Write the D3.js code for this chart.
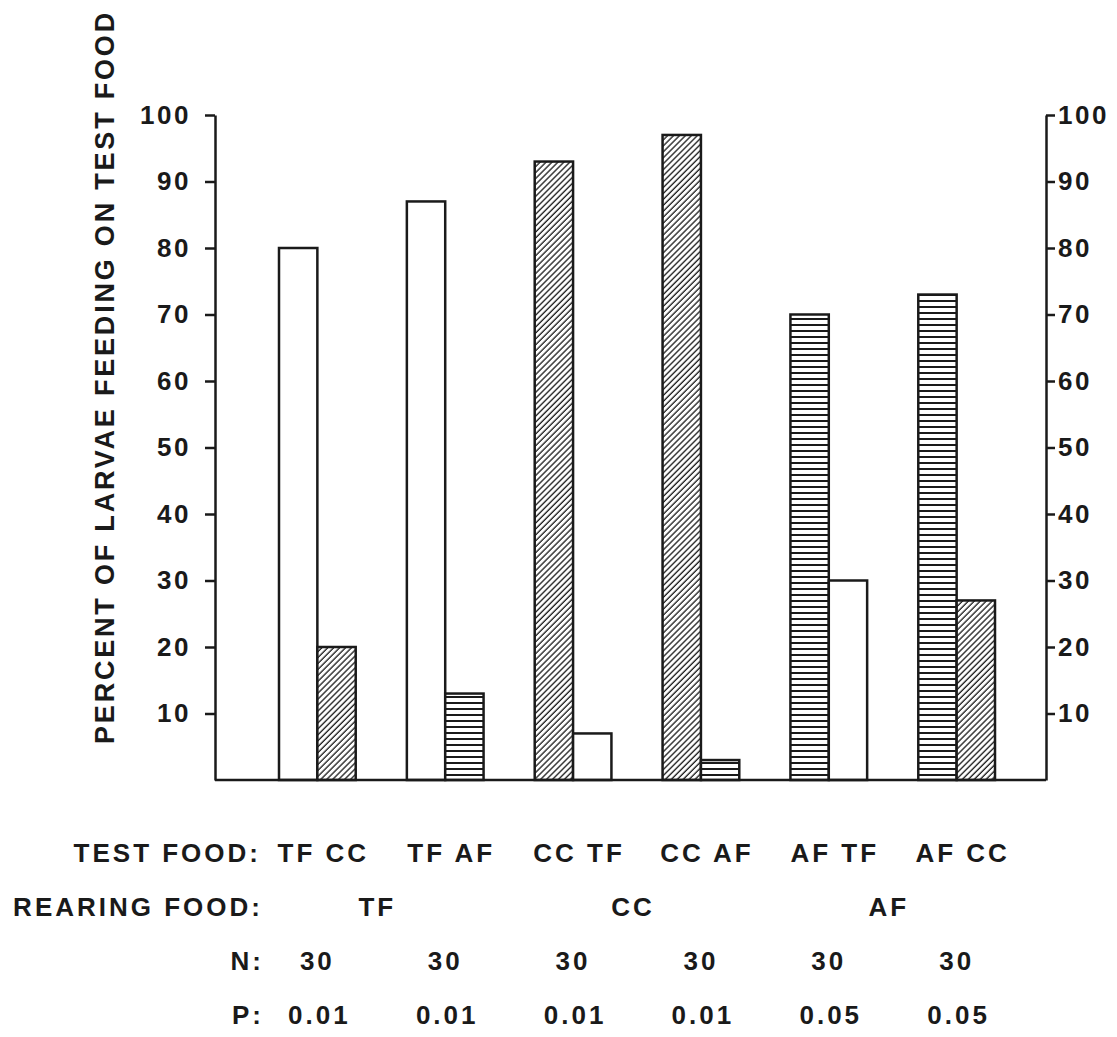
<!DOCTYPE html>
<html>
<head>
<meta charset="utf-8">
<script src="https://cdn.jsdelivr.net/npm/d3@7"></script>
<style>
  body { margin: 0; background: #fff; }
  text { font-family: "Liberation Sans", Arial, sans-serif; font-weight: bold; fill: #1a1a1a; }
</style>
</head>
<body>
<svg id="chart"></svg>
<script>
// test food pairs (first bar = first food, second bar = second food)
var testFood = ["TF CC", "TF AF", "CC TF", "CC AF", "AF TF", "AF CC"];
var firstFood = ["TF", "TF", "CC", "CC", "AF", "AF"];
var secondFood = ["CC", "AF", "TF", "AF", "TF", "CC"];
var firstValues = [80, 87, 93, 97, 70, 73];
var secondValues = [20, 13, 7, 3, 30, 27];
var rearingFood = ["TF", "CC", "AF"];
var nValues = ["30", "30", "30", "30", "30", "30"];
var pValues = ["0.01", "0.01", "0.01", "0.01", "0.05", "0.05"];
var yTicks = [10, 20, 30, 40, 50, 60, 70, 80, 90, 100];

var width = 1117,
    height = 1037;

var svg = d3.select("#chart").attr("width", width).attr("height", height);

var plotLeft = 215, plotRight = 1046, plotTop = 115, plotBottom = 780;

var y = d3.scaleLinear().domain([0, 100]).range([plotBottom, plotTop]);
var x = d3.scaleBand().domain(testFood).range([279, 995]).paddingInner(0.4).paddingOuter(0);
var xPair = d3.scaleBand().domain([0, 1]).range([0, x.bandwidth()]);

// fill patterns: TF plain, CC diagonal hatch, AF horizontal lines
var defs = svg.append("defs");
var diag = defs.append("pattern").attr("id", "diag").attr("patternUnits", "userSpaceOnUse")
  .attr("width", 4.2).attr("height", 10).attr("patternTransform", "rotate(45)");
diag.append("rect").attr("width", 4.2).attr("height", 10).attr("fill", "#fff");
diag.append("line").attr("x1", 1).attr("x2", 1).attr("y1", 0).attr("y2", 10)
  .attr("stroke", "#1a1a1a").attr("stroke-width", 1.3);
var horiz = defs.append("pattern").attr("id", "horiz").attr("patternUnits", "userSpaceOnUse")
  .attr("width", 10).attr("height", 6);
horiz.append("rect").attr("width", 10).attr("height", 6).attr("fill", "#fff");
horiz.append("line").attr("x1", 0).attr("x2", 10).attr("y1", 1).attr("y2", 1)
  .attr("stroke", "#1a1a1a").attr("stroke-width", 2);

function fillFor(food) {
  if (food == "CC") return "url(#diag)";
  if (food == "AF") return "url(#horiz)";
  return "#fff";
}

// bars
var bars = [];
testFood.forEach(function(t, i) {
  bars.push({cat: t, k: 0, food: firstFood[i], value: firstValues[i]});
  bars.push({cat: t, k: 1, food: secondFood[i], value: secondValues[i]});
});

svg.append("g").selectAll("rect").data(bars).enter().append("rect")
  .attr("x", function(d) { return x(d.cat) + xPair(d.k); })
  .attr("y", function(d) { return y(d.value); })
  .attr("width", xPair.bandwidth())
  .attr("height", function(d) { return y(0) - y(d.value); })
  .attr("fill", function(d) { return fillFor(d.food); })
  .attr("stroke", "#1a1a1a")
  .attr("stroke-width", 2.5);

// axes
var leftAxis = d3.axisLeft(y).tickValues(yTicks).tickSize(10).tickSizeOuter(0).tickPadding(14);
var rightAxis = d3.axisRight(y).tickValues(yTicks).tickSize(9).tickSizeOuter(0).tickPadding(3);

function styleAxis(g) {
  g.selectAll("path, line").attr("stroke", "#1a1a1a").attr("stroke-width", 2.5);
  g.selectAll("text").style("font-size", "26px").style("letter-spacing", "2.5px")
    .attr("font-family", null).attr("fill", "#1a1a1a");
}
svg.append("g").attr("transform", "translate(" + plotLeft + ",0)").call(leftAxis).call(styleAxis);
svg.append("g").attr("transform", "translate(" + plotRight + ",0)").call(rightAxis).call(styleAxis);

// baseline
svg.append("line").attr("x1", plotLeft).attr("x2", plotRight).attr("y1", y(0)).attr("y2", y(0))
  .attr("stroke", "#1a1a1a").attr("stroke-width", 2.5);

// y title
svg.append("text").text("PERCENT OF LARVAE FEEDING ON TEST FOOD")
  .attr("transform", "translate(114,377) rotate(-90)")
  .attr("text-anchor", "middle")
  .style("font-size", "27px").style("letter-spacing", "2.8px");

// bottom table
var labelStyle = function(sel) { return sel.style("font-size", "26px").style("letter-spacing", "3px"); };
var rowY = {test: 862, rear: 916, n: 970, p: 1024};

svg.append("text").text("TEST FOOD:").attr("x", 261).attr("y", rowY.test).attr("text-anchor", "end").call(labelStyle);
svg.append("text").text("REARING FOOD:").attr("x", 263).attr("y", rowY.rear).attr("text-anchor", "end").call(labelStyle);
svg.append("text").text("N:").attr("x", 264).attr("y", rowY.n).attr("text-anchor", "end").call(labelStyle);
svg.append("text").text("P:").attr("x", 264).attr("y", rowY.p).attr("text-anchor", "end").call(labelStyle);

svg.append("g").selectAll("text").data(testFood).enter().append("text")
  .text(function(d) { return d; })
  .attr("x", function(d) { return x(d) + x.bandwidth() / 2 + 6; })
  .attr("y", rowY.test).attr("text-anchor", "middle").call(labelStyle);

svg.append("g").selectAll("text").data(rearingFood).enter().append("text")
  .text(function(d) { return d; })
  .attr("x", function(d, i) {
    var a = testFood[i * 2], b = testFood[i * 2 + 1];
    return (x(a) + x(b) + x.bandwidth()) / 2 - 4;
  })
  .attr("y", rowY.rear).attr("text-anchor", "middle").call(labelStyle);

svg.append("g").selectAll("text").data(nValues).enter().append("text")
  .text(function(d) { return d; })
  .attr("x", function(d, i) { return x(testFood[i]) + x.bandwidth() / 2; })
  .attr("y", rowY.n).attr("text-anchor", "middle").call(labelStyle);

svg.append("g").selectAll("text").data(pValues).enter().append("text")
  .text(function(d) { return d; })
  .attr("x", function(d, i) { return x(testFood[i]) + x.bandwidth() / 2 + 2; })
  .attr("y", rowY.p).attr("text-anchor", "middle").call(labelStyle);
</script>
</body>
</html>
